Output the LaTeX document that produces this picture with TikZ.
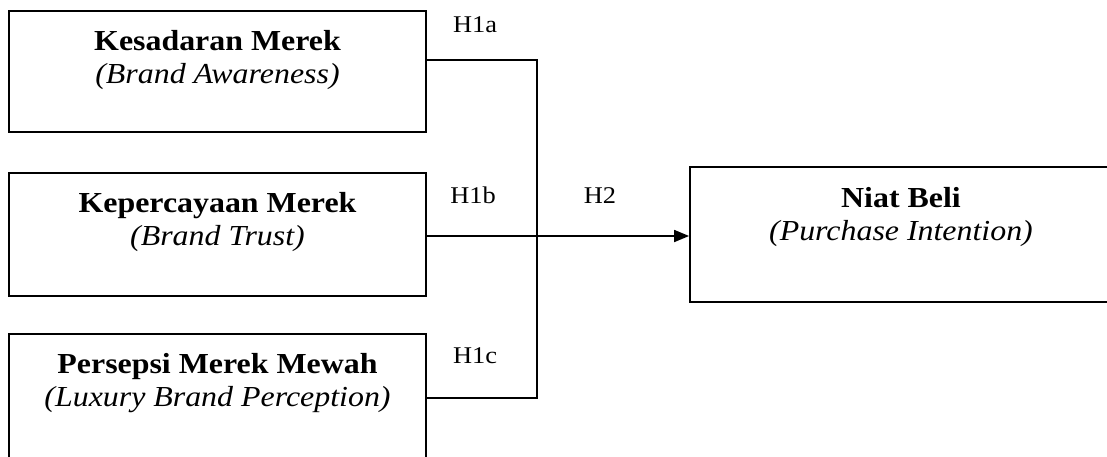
\documentclass[tikz,border=0pt]{standalone}
\usepackage{fontspec}
\setmainfont{Liberation Serif}[FakeStretch=1.1]
\usetikzlibrary{arrows.meta}
\begin{document}
\begin{tikzpicture}[x=1pt,y=-1pt,
  box/.style={draw=black,line width=1.8pt,rectangle,inner sep=0pt},
  boxtext/.style={anchor=north,align=center,inner sep=0pt,font=\fontsize{29}{33}\selectfont},
  hyp/.style={anchor=base,inner sep=0pt,font=\fontsize{24}{28}\selectfont},
  conn/.style={draw=black,line width=1.8pt},
  arr/.style={conn,-{Triangle[length=15pt,width=12pt]}}]
\useasboundingbox (0,0) rectangle (1107,456);
% boxes
\node[box,minimum width=417pt,minimum height=121pt] (b1) at (217.5,71.5) {};
\node[box,minimum width=417pt,minimum height=123pt] (b2) at (217.5,234.5) {};
\node[box,minimum width=417pt,minimum height=126pt] (b3) at (217.5,397) {};
\node[box,minimum width=422pt,minimum height=135pt] (b4) at (901,234.5) {};
% texts
\node[boxtext] (t1) at ([yshift=-20pt]b1.north) {\textbf{Kesadaran Merek}\\\textit{(Brand Awareness)}};
\node[boxtext] (t2) at ([yshift=-20pt]b2.north) {\textbf{Kepercayaan Merek}\\\textit{(Brand Trust)}};
\node[boxtext] (t3) at ([yshift=-20pt]b3.north) {\textbf{Persepsi Merek Mewah}\\\textit{(Luxury Brand Perception)}};
\node[boxtext] (t4) at ([yshift=-21pt]b4.north) {\textbf{Niat Beli}\\\textit{(Purchase Intention)}};
% junction
\coordinate (j) at (537,236);
\coordinate (e1) at ([yshift=11.5pt]b1.east);
\coordinate (e2) at ([yshift=-1.5pt]b2.east);
\coordinate (e3) at ([yshift=-1pt]b3.east);
\draw[conn] (e1) -| (j);
\draw[conn] (e3) -| (j);
\draw[arr] (e2) -- (e2 -| b4.west);
% labels
\node[hyp] (h1a) at (475,32) {H1a};
\node[hyp] (h1b) at (473,203) {H1b};
\node[hyp] (h2) at (600,203) {H2};
\node[hyp] (h1c) at (475,363) {H1c};
\end{tikzpicture}
\end{document}
